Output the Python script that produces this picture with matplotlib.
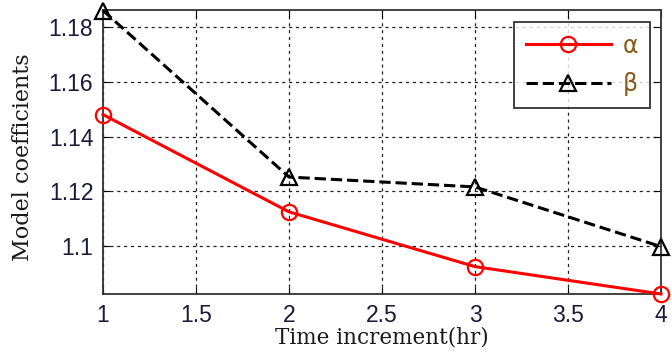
import matplotlib
matplotlib.use("Agg")
import matplotlib.pyplot as plt

x = [1, 2, 3, 4]
alpha = [1.148, 1.1125, 1.0925, 1.0825]
beta = [1.186, 1.1252, 1.1216, 1.0998]
xticks = [1, 1.5, 2, 2.5, 3, 3.5, 4]
xtick_labels = ["1", "1.5", "2", "2.5", "3", "3.5", "4"]
yticks = [1.1, 1.12, 1.14, 1.16, 1.18]
ytick_labels = ["1.1", "1.12", "1.14", "1.16", "1.18"]

fig = plt.figure(figsize=(6.72, 3.54), dpi=100)
ax = fig.add_axes([0.1533, 0.1695, 0.8303, 0.8023])

ax.plot(x, alpha, color="red", linestyle="-", linewidth=2.2, marker="o",
        markersize=11, markerfacecolor="none", markeredgecolor="red",
        markeredgewidth=1.6, label="α", clip_on=False, zorder=3)
ax.plot(x, beta, color="black", linestyle="--", linewidth=2.2, marker="^",
        markersize=11, markerfacecolor="none", markeredgecolor="black",
        markeredgewidth=1.6, label="β", clip_on=False, zorder=3)

ax.set_xlim(1, 4)
ax.set_ylim(1.0825, 1.1862)
ax.set_xticks(xticks)
ax.set_xticklabels(xtick_labels)
ax.set_yticks(yticks)
ax.set_yticklabels(ytick_labels)
ax.tick_params(direction="in", length=5, labelsize=16.5, top=True, right=True,
               colors="black")
ax.tick_params(axis="x", pad=7.5)
ax.tick_params(axis="y", pad=7)
for lab in ax.get_xticklabels() + ax.get_yticklabels():
    lab.set_family(["Liberation Sans", "DejaVu Sans"])
    lab.set_color("#1a1a3a")

ax.grid(True, linestyle=(0, (2.5, 3)), color="#222222", linewidth=0.9)
for s in ax.spines.values():
    s.set_linewidth(1.3)
    s.set_color("#333333")

ax.set_xlabel("Time increment(hr)", family=["DejaVu Serif"], fontsize=15.5,
              color="#1a1a1a")
ax.xaxis.set_label_coords(0.5, -0.113)
ax.set_ylabel("Model coefficients", family=["DejaVu Serif"], fontsize=16,
              color="#1a1a1a")
ax.yaxis.set_label_coords(-0.124, 0.482)

leg = ax.legend(loc="upper right", bbox_to_anchor=(0.980, 0.958), fontsize=17,
                frameon=True, fancybox=False, edgecolor="black", handlelength=3.6,
                borderpad=0.5, labelspacing=0.6, handletextpad=0.5,
                borderaxespad=0.0)
leg.get_frame().set_linewidth(1.3)
for t in leg.get_texts():
    t.set_color("#8a5a18")

fig.savefig("out.png", dpi=100)
